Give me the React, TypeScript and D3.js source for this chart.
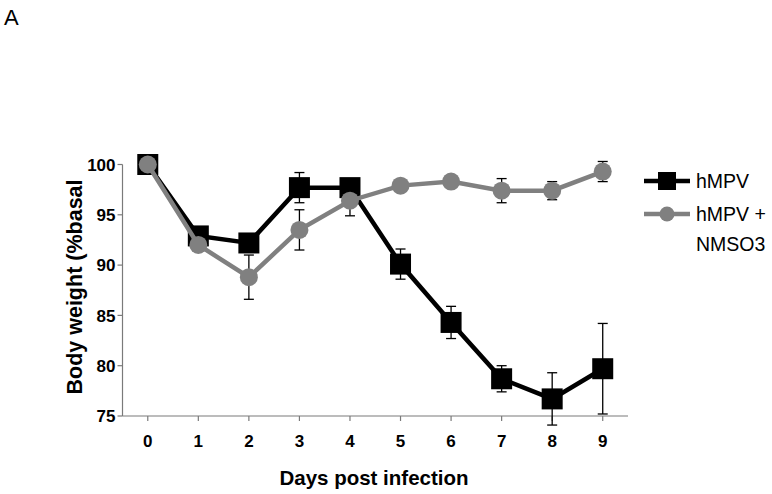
import React from "react";
import * as d3 from "d3";

const days = [0, 1, 2, 3, 4, 5, 6, 7, 8, 9];
const hmpv = [100, 92.9, 92.2, 97.7, 97.7, 90.1, 84.3, 78.7, 76.7, 79.7];
const hmpvErr = [0, 0.4, 0.6, 1.5, 0.5, 1.5, 1.6, 1.3, 2.6, 4.5];
const nmso3 = [100, 92.0, 88.8, 93.5, 96.4, 97.9, 98.3, 97.4, 97.4, 99.3];
const nmso3Err = [0, 0.3, 2.2, 2.0, 1.5, 0.3, 0.3, 1.2, 0.9, 1.0];
const yTicks = [75, 80, 85, 90, 95, 100];
const legendLabels = ["hMPV", "hMPV +", "NMSO3"];

const W = 772;
const H = 494;
const font = "'Liberation Sans', Arial, sans-serif";

export default function App() {
  const x = d3.scaleLinear().domain([-0.5, 9.5]).range([122.5, 628]);
  const y = d3.scaleLinear().domain([75, 100]).range([416, 164.5]);
  const line = d3
    .line<[number, number]>()
    .x((d) => x(d[0]))
    .y((d) => y(d[1]));
  const blackPts = days.map((d, i) => [d, hmpv[i]] as [number, number]);
  const grayPts = days.map((d, i) => [d, nmso3[i]] as [number, number]);
  const axisColor = "#7a7a7a";
  const gray = "#808080";

  const errBars = (vals: number[], errs: number[], key: string) =>
    days.map((d, i) =>
      errs[i] > 0 ? (
        <g key={key + i} stroke="#000" strokeWidth={1.3}>
          <line x1={x(d)} x2={x(d)} y1={y(vals[i] + errs[i])} y2={y(vals[i] - errs[i])} />
          <line x1={x(d) - 5} x2={x(d) + 5} y1={y(vals[i] + errs[i])} y2={y(vals[i] + errs[i])} />
          <line x1={x(d) - 5} x2={x(d) + 5} y1={y(vals[i] - errs[i])} y2={y(vals[i] - errs[i])} />
        </g>
      ) : null
    );

  return (
    <svg width={W} height={H} style={{ position: "absolute", left: 0, top: 0, background: "#fff" }}>
      <text x={4} y={25} fontFamily={font} fontSize={22} fill="#000">A</text>

      {/* axes */}
      <line x1={x(-0.5)} x2={x(-0.5)} y1={y(100)} y2={y(75)} stroke={axisColor} strokeWidth={1.2} />
      <line x1={x(-0.5)} x2={x(9.5)} y1={y(75)} y2={y(75)} stroke={axisColor} strokeWidth={1.2} />
      {yTicks.map((t) => (
        <g key={"y" + t}>
          <line x1={x(-0.5) - 5} x2={x(-0.5)} y1={y(t)} y2={y(t)} stroke={axisColor} strokeWidth={1.2} />
          <text x={x(-0.5) - 7} y={y(t)} dy="0.36em" textAnchor="end" fontFamily={font} fontWeight="bold" fontSize={17} fill="#000">
            {t}
          </text>
        </g>
      ))}
      {days.map((d) => (
        <g key={"x" + d}>
          <line x1={x(d)} x2={x(d)} y1={y(75)} y2={y(75) + 5} stroke={axisColor} strokeWidth={1.2} />
          <text x={x(d)} y={447} textAnchor="middle" fontFamily={font} fontWeight="bold" fontSize={17} fill="#000">
            {d}
          </text>
        </g>
      ))}
      <text x={374} y={485} textAnchor="middle" fontFamily={font} fontWeight="bold" fontSize={20.5} fill="#000">
        Days post infection
      </text>
      <text
        transform={`translate(82, ${287}) rotate(-90)`}
        textAnchor="middle"
        fontFamily={font}
        fontWeight="bold"
        fontSize={21.5}
        fill="#000"
      >
        Body weight (%basal
      </text>

      {/* series */}
      {errBars(hmpv, hmpvErr, "b")}
      {errBars(nmso3, nmso3Err, "g")}
      <path d={line(blackPts) || ""} fill="none" stroke="#000" strokeWidth={4.5} />
      {blackPts.map((p, i) => (
        <rect key={"s" + i} x={x(p[0]) - 10.5} y={y(p[1]) - 10.5} width={21} height={21} fill="#000" />
      ))}
      <path d={line(grayPts) || ""} fill="none" stroke={gray} strokeWidth={4.5} />
      {grayPts.map((p, i) => (
        <circle key={"c" + i} cx={x(p[0])} cy={y(p[1])} r={9} fill={gray} />
      ))}

      {/* legend */}
      <line x1={644} x2={690} y1={181} y2={181} stroke="#000" strokeWidth={4.5} />
      <rect x={658} y={172} width={18} height={18} fill="#000" />
      <text x={696} y={188} fontFamily={font} fontSize={19.5} fill="#000">{legendLabels[0]}</text>
      <line x1={644} x2={690} y1={214} y2={214} stroke={gray} strokeWidth={4.5} />
      <circle cx={667} cy={214} r={7.5} fill={gray} />
      <text x={696} y={221} fontFamily={font} fontSize={19.5} fill="#000">{legendLabels[1]}</text>
      <text x={696} y={251} fontFamily={font} fontSize={19.5} fill="#000">{legendLabels[2]}</text>
    </svg>
  );
}
